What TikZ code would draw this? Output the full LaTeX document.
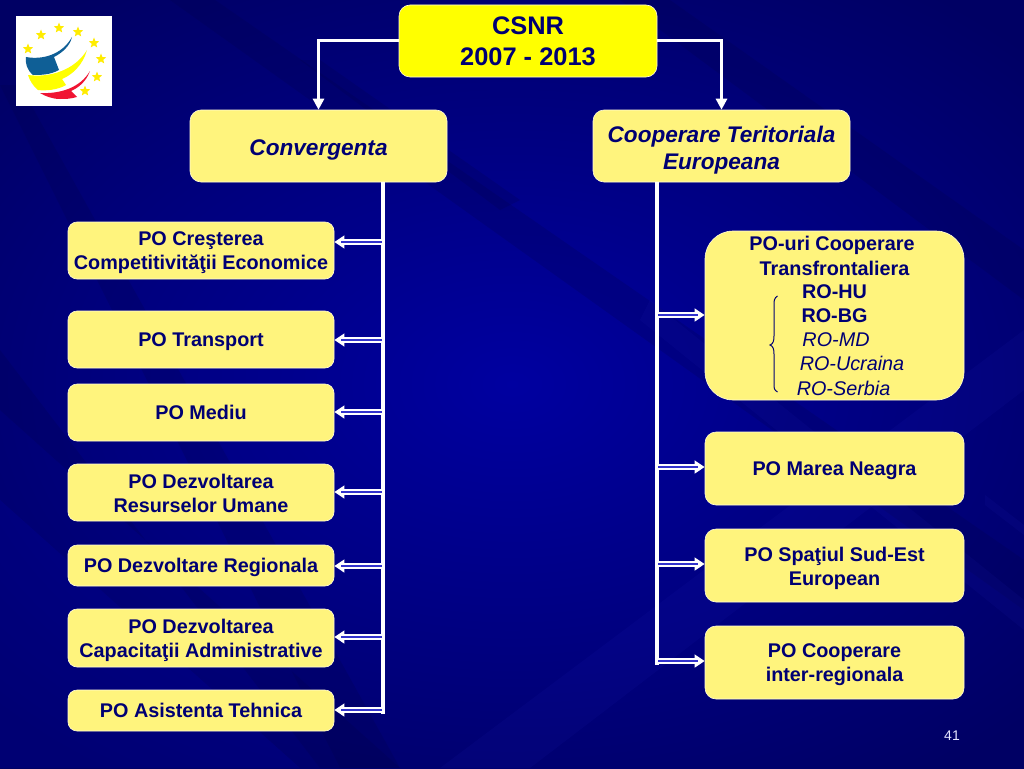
\documentclass[tikz,border=0pt]{standalone}
\usepackage{fontspec}
\setmainfont{Liberation Sans}
\usetikzlibrary{arrows.meta,shapes.geometric,calc}
\definecolor{bgdark}{RGB}{0,0,100}
\definecolor{bgmid}{RGB}{0,0,160}
\definecolor{boxy}{RGB}{255,244,125}
\definecolor{pureyellow}{RGB}{255,255,0}
\definecolor{txtb}{RGB}{0,0,115}
\definecolor{streak}{RGB}{0,0,70}
\definecolor{lite}{RGB}{50,50,205}
\definecolor{logoblue}{RGB}{15,95,150}
\definecolor{logored}{RGB}{240,20,50}
\newcommand{\twol}[4]{\rule{0pt}{#1}#3\\#4\rule[-#2]{0pt}{#2}}
\tikzset{
  x=1pt,y=-1pt,
  box/.style={draw=white!70!boxy,line width=.6pt,fill=boxy,rounded corners=9pt,inner sep=0pt},
  bigbox/.style={box,rounded corners=11pt},
  hugebox/.style={box,rounded corners=28pt},
  boxbase/.style={text=txtb,font=\fontsize{19.8}{24}\selectfont\bfseries,align=center,inner sep=0pt},
  oneline/.style={boxbase,text height=14pt,text depth=4pt,yshift=-1.5pt},
  twoline/.style={boxbase,yshift=-2.5pt},
  titletext/.style={boxbase,font=\fontsize{25.4}{32}\selectfont\bfseries,yshift=-2.5pt},
  convone/.style={boxbase,font=\fontsize{22.6}{27}\selectfont\bfseries\itshape,text height=16pt,text depth=5pt,yshift=-3.5pt},
  convtwo/.style={boxbase,font=\fontsize{22.6}{27}\selectfont\bfseries\itshape,yshift=-4pt},
  listtxt/.style={text=txtb,font=\fontsize{19.8}{24}\selectfont\bfseries,inner sep=0pt,anchor=center},
  listit/.style={text=txtb,font=\fontsize{19.8}{24}\selectfont\itshape,inner sep=0pt,anchor=center},
  feed/.style={draw=white,line width=3.3pt,line cap=butt},
  toparrow/.style={draw=white,line width=3pt,-{Triangle[length=11pt,width=11pt]}},
  dbl/.style={draw=lite,line width=2.2pt,shorten >=7pt,
    preaction={draw=white,line width=6pt,shorten >=0pt,-{Triangle[length=10pt,width=12.5pt]}}},
  strk/.style={fill=streak,opacity=.2},
  strk2/.style={fill=lite,opacity=.08},
  logostarstyle/.style={fill=pureyellow!85!orange,star,star points=5,star point ratio=2.3,minimum size=11pt,inner sep=0pt,draw=none},
}
\newcommand{\logostar}[1]{\node[logostarstyle] at (#1) {};}
\begin{document}
\begin{tikzpicture}
\useasboundingbox (0,0) rectangle (1024,768);
% background
\shade[inner color=bgmid,outer color=bgdark] (-200,-100) rectangle (1224,868);
\fill[bgmid,opacity=.25] (0,500) -- (300,768) -- (0,768) -- cycle;
\fill[strk] (0,85) -- (20,85) -- (400,768) -- (340,768) -- cycle;
\fill[strk] (170,0) -- (215,0) -- (1024,560) -- (1024,610) -- cycle;
\fill[strk] (620,0) -- (670,0) -- (1024,250) -- (1024,300) -- cycle;
\fill[strk] (300,60) -- (320,60) -- (520,200) -- (500,210) -- cycle;
\fill[strk] (0,350) -- (0,410) -- (400,768) -- (320,768) -- cycle;
\fill[strk2] (440,768) -- (1024,330) -- (1024,390) -- (530,768) -- cycle;
\fill[strk2] (650,300) -- (1024,600) -- (1024,630) -- (640,320) -- cycle;
\fill[strk2] (985,495) -- (1024,525) -- (1024,535) -- (985,505) -- cycle;
% logo
\fill[white] (16,16) rectangle (112,106);
\fill[logoblue] (26,57) .. controls (42,60) and (62,55) .. (72,37) .. controls (70,46) and (62,53) .. (54,57) -- (59,70) .. controls (50,75) and (40,75) .. (33,75) .. controls (27,70) and (25,63) .. (26,57) -- cycle;
\fill[pureyellow] (28,75) .. controls (50,78) and (75,70) .. (87,50) .. controls (83,65) and (72,75) .. (62,79) -- (66,85) .. controls (58,90) and (45,91) .. (38,90) .. controls (33,86) and (30,81) .. (28,75) -- cycle;
\fill[logored] (40,93) .. controls (60,94) and (80,88) .. (90,71) .. controls (86,82) and (78,88) .. (71,91) -- (77,97) .. controls (70,99) and (65,99) .. (60,99) .. controls (52,99) and (45,96) .. (40,93) -- cycle;
\logostar{59,28}\logostar{78,32}\logostar{94,43}\logostar{101,59}\logostar{97,77}\logostar{85,91}\logostar{41,35}\logostar{28,49}
% boxes
\node[bigbox,minimum width=258pt,minimum height=72pt,fill=pureyellow,label={[titletext]center:{\twol{18pt}{5pt}{CSNR}{2007 - 2013}}}] (csnr) at (528,41) {};
\node[bigbox,minimum width=257pt,minimum height=72pt,label={[convone]center:{Convergenta}}] (conv) at (318.5,146) {};
\node[bigbox,minimum width=257pt,minimum height=72pt,label={[convtwo]center:{\twol{16pt}{5pt}{Cooperare Teritoriala}{Europeana}}}] (coop) at (721.5,146) {};
\node[box,minimum width=266pt,minimum height=57pt,label={[twoline]center:{\twol{14pt}{4pt}{PO Creşterea}{Competitivităţii Economice}}}] (l1) at (201,250.5) {};
\node[box,minimum width=266pt,minimum height=57pt,label={[oneline]center:{PO Transport}}] (l2) at (201,339.5) {};
\node[box,minimum width=266pt,minimum height=57pt,label={[oneline]center:{PO Mediu}}] (l3) at (201,412.5) {};
\node[box,minimum width=266pt,minimum height=57pt,label={[twoline]center:{\twol{14pt}{4pt}{PO Dezvoltarea}{Resurselor Umane}}}] (l4) at (201,492.5) {};
\node[box,minimum width=266pt,minimum height=41pt,label={[oneline]center:{PO Dezvoltare Regionala}}] (l5) at (201,565.5) {};
\node[box,minimum width=266pt,minimum height=58pt,label={[twoline]center:{\twol{14pt}{4pt}{PO Dezvoltarea}{Capacitaţii Administrative}}}] (l6) at (201,638) {};
\node[box,minimum width=266pt,minimum height=41pt,label={[oneline]center:{PO Asistenta Tehnica}}] (l7) at (201,710.5) {};
\node[hugebox,minimum width=259pt,minimum height=169pt] (r1) at (834.5,315.5) {};
\node[bigbox,minimum width=259pt,minimum height=73pt,label={[oneline]center:{PO Marea Neagra}}] (r2) at (834.5,468.5) {};
\node[bigbox,minimum width=259pt,minimum height=73pt,label={[twoline]center:{\twol{14pt}{4pt}{PO Spaţiul Sud-Est}{European}}}] (r3) at (834.5,565.5) {};
\node[bigbox,minimum width=259pt,minimum height=73pt,label={[twoline]center:{\twol{14pt}{4pt}{PO Cooperare}{inter-regionala}}}] (r4) at (834.5,662.5) {};
% text in the large box
\node[listtxt] (t1) at (832,245.5) {PO-uri Cooperare};
\node[listtxt] (t2) at (834.5,268.5) {Transfrontaliera};
\node[listtxt] (t3) at (834.5,292) {RO-HU};
\node[listtxt] (t4) at (834.5,316) {RO-BG};
\node[listit] (t5) at (836,340) {RO-MD};
\node[listit] (t6) at (852,363.5) {RO-Ucraina};
\node[listit] (t7) at (843.5,388) {RO-Serbia};
\draw[txtb,line width=1pt] (777.5,296) .. controls (774,298) and (774,301) .. (774,305) -- (774,336) .. controls (774,341) and (773,344) .. (770,345) .. controls (773,346) and (774,349) .. (774,354) -- (774,384) .. controls (774,388) and (774,390) .. (777.5,392);
% top connectors
\draw[toparrow] (csnr.west) -| (conv.north);
\draw[toparrow] (csnr.east) -| (coop.north);
% trunks
\coordinate (ltop) at (conv.south -| 383,0);
\coordinate (lend) at (383,714);
\coordinate (rtop) at (coop.south -| 657,0);
\coordinate (rend) at (657,665);
\draw[feed] (ltop) -- (lend);
\draw[feed] (rtop) -- (rend);
% branches
\foreach \n/\y in {l1/242,l2/340,l3/412,l4/492,l5/566,l6/637,l7/710}
  \draw[dbl] (382,\y) -- (\n.east |- 0,\y);
\foreach \n/\y in {r1/315,r2/467,r3/564,r4/661}
  \draw[dbl] (658,\y) -- (\n.west |- 0,\y);
\node[text=white!90!blue,font=\fontsize{14}{16}\selectfont,inner sep=0pt] (pg) at (952,736) {41};
\end{tikzpicture}
\end{document}
